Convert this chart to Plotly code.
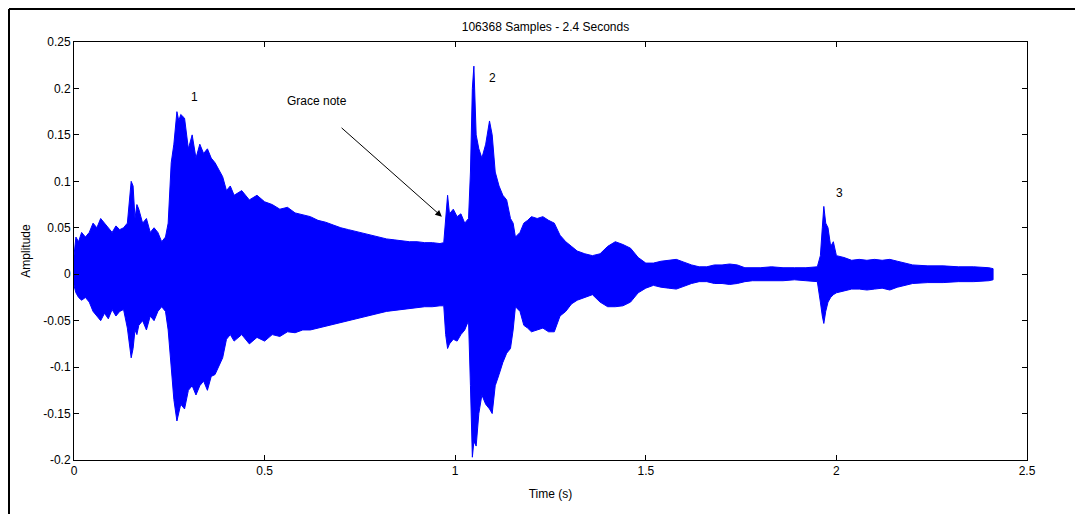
import plotly.graph_objects as go

# Envelope of the waveform (time in s, upper / lower amplitude)
env_t = [0.000, 0.005, 0.012, 0.020, 0.030, 0.040, 0.050, 0.060, 0.070, 0.080, 0.090, 0.100, 0.110, 0.120, 0.130,
         0.140, 0.150, 0.155, 0.160, 0.165, 0.170, 0.180, 0.190, 0.200, 0.210, 0.220, 0.230, 0.240, 0.247, 0.255,
         0.262, 0.270, 0.275, 0.280, 0.290, 0.300, 0.310, 0.320, 0.330, 0.340, 0.350, 0.360, 0.370, 0.380, 0.390,
         0.400, 0.410, 0.420, 0.440, 0.460, 0.480, 0.500, 0.520, 0.540, 0.560, 0.580, 0.600, 0.620, 0.640, 0.660,
         0.680, 0.700, 0.720, 0.740, 0.760, 0.780, 0.800, 0.820, 0.840, 0.860, 0.880, 0.900, 0.920, 0.940, 0.960,
         0.970, 0.975, 0.980, 0.985, 0.995, 1.005, 1.015, 1.025, 1.035, 1.040, 1.045, 1.049, 1.055, 1.062, 1.070,
         1.080, 1.090, 1.097, 1.105, 1.115, 1.125, 1.135, 1.145, 1.152, 1.158, 1.170, 1.180, 1.190, 1.200, 1.215,
         1.230, 1.245, 1.260, 1.275, 1.290, 1.305, 1.320, 1.340, 1.360, 1.380, 1.400, 1.420, 1.440, 1.460, 1.480,
         1.500, 1.520, 1.540, 1.560, 1.580, 1.600, 1.620, 1.640, 1.660, 1.680, 1.700, 1.720, 1.740, 1.760, 1.780,
         1.800, 1.830, 1.860, 1.890, 1.920, 1.950, 1.958, 1.963, 1.967, 1.972, 1.978, 1.985, 1.992, 2.000, 2.020,
         2.040, 2.060, 2.080, 2.100, 2.120, 2.140, 2.160, 2.180, 2.200, 2.240, 2.280, 2.320, 2.360, 2.400, 2.411]
env_hi = [0.020, 0.040, 0.035, 0.045, 0.040, 0.045, 0.055, 0.050, 0.060, 0.055, 0.050, 0.045, 0.052, 0.048, 0.050,
          0.055, 0.100, 0.095, 0.060, 0.075, 0.070, 0.055, 0.060, 0.045, 0.050, 0.045, 0.035, 0.040, 0.055, 0.120,
          0.140, 0.175, 0.165, 0.172, 0.168, 0.135, 0.150, 0.125, 0.140, 0.130, 0.135, 0.125, 0.120, 0.112, 0.105,
          0.090, 0.095, 0.085, 0.090, 0.080, 0.085, 0.078, 0.075, 0.070, 0.072, 0.066, 0.064, 0.062, 0.058, 0.056,
          0.053, 0.050, 0.048, 0.046, 0.044, 0.042, 0.040, 0.038, 0.037, 0.036, 0.035, 0.035, 0.034, 0.034, 0.033,
          0.034, 0.060, 0.085, 0.065, 0.070, 0.062, 0.065, 0.055, 0.060, 0.110, 0.200, 0.224, 0.150, 0.135, 0.125,
          0.140, 0.165, 0.150, 0.110, 0.095, 0.085, 0.080, 0.060, 0.055, 0.040, 0.045, 0.055, 0.058, 0.062, 0.060,
          0.062, 0.058, 0.055, 0.042, 0.035, 0.030, 0.025, 0.022, 0.020, 0.022, 0.030, 0.035, 0.032, 0.028, 0.018,
          0.012, 0.012, 0.014, 0.015, 0.016, 0.013, 0.010, 0.008, 0.008, 0.010, 0.010, 0.011, 0.010, 0.007, 0.007,
          0.007, 0.008, 0.007, 0.007, 0.007, 0.008, 0.020, 0.050, 0.073, 0.055, 0.050, 0.030, 0.035, 0.020, 0.018,
          0.015, 0.016, 0.015, 0.016, 0.015, 0.016, 0.014, 0.012, 0.010, 0.009, 0.009, 0.008, 0.008, 0.007, 0.006]
env_lo = [-0.012, -0.020, -0.025, -0.028, -0.025, -0.030, -0.040, -0.045, -0.050, -0.042, -0.048, -0.038, -0.045, -0.040, -0.038,
          -0.058, -0.090, -0.080, -0.060, -0.065, -0.055, -0.050, -0.060, -0.045, -0.050, -0.040, -0.035, -0.040, -0.060, -0.100,
          -0.135, -0.158, -0.150, -0.140, -0.145, -0.125, -0.120, -0.130, -0.120, -0.115, -0.125, -0.110, -0.108, -0.100, -0.090,
          -0.070, -0.065, -0.072, -0.065, -0.075, -0.068, -0.072, -0.065, -0.067, -0.062, -0.063, -0.060, -0.060, -0.058, -0.056,
          -0.054, -0.052, -0.050, -0.048, -0.046, -0.044, -0.042, -0.040, -0.039, -0.038, -0.037, -0.036, -0.035, -0.035, -0.034,
          -0.034, -0.065, -0.080, -0.075, -0.070, -0.072, -0.065, -0.060, -0.050, -0.120, -0.197, -0.180, -0.185, -0.150, -0.130,
          -0.140, -0.145, -0.150, -0.120, -0.108, -0.095, -0.085, -0.080, -0.060, -0.035, -0.040, -0.055, -0.058, -0.062, -0.060,
          -0.058, -0.062, -0.062, -0.045, -0.040, -0.032, -0.028, -0.025, -0.022, -0.030, -0.035, -0.035, -0.034, -0.030, -0.020,
          -0.015, -0.012, -0.014, -0.015, -0.016, -0.013, -0.010, -0.008, -0.008, -0.010, -0.010, -0.011, -0.010, -0.008, -0.007,
          -0.007, -0.007, -0.007, -0.006, -0.007, -0.008, -0.030, -0.045, -0.053, -0.040, -0.030, -0.025, -0.022, -0.020, -0.018,
          -0.016, -0.016, -0.017, -0.016, -0.015, -0.017, -0.014, -0.012, -0.010, -0.009, -0.009, -0.008, -0.008, -0.007, -0.006]

x_ticks = [0, 0.5, 1, 1.5, 2, 2.5]
x_tick_text = ["0", "0.5", "1", "1.5", "2", "2.5"]
y_ticks = [-0.2, -0.15, -0.1, -0.05, 0, 0.05, 0.1, 0.15, 0.2, 0.25]
y_tick_text = ["-0.2", "-0.15", "-0.1", "-0.05", "0", "0.05", "0.1", "0.15", "0.2", "0.25"]

labels = ["1", "2", "3"]
label_t = [0.315, 1.099, 2.007]
label_amp = [0.191, 0.211, 0.087]

BLUE = "#0000FF"
FONT = "Liberation Sans, Arial, sans-serif"

W, H = 1075, 506
ML, MR, MT, MB = 66, 56, 34, 54

fig = go.Figure()
poly_x = env_t + env_t[::-1]
poly_y = env_hi + env_lo[::-1]
fig.add_trace(go.Scatter(x=poly_x, y=poly_y, mode="lines", fill="toself",
                         fillcolor=BLUE, line=dict(color=BLUE, width=1), hoverinfo="skip",
                         showlegend=False))

for txt, t, a in zip(labels, label_t, label_amp):
    fig.add_annotation(x=t, y=a, text=txt, showarrow=False,
                       font=dict(family=FONT, size=12, color="black"))

fig.add_annotation(x=0.637, y=0.187, text="Grace note", showarrow=False,
                   font=dict(family=FONT, size=12, color="black"))
fig.add_annotation(x=0.965, y=0.062, ax=0.698, ay=0.159, xref="x", yref="y",
                   axref="x", ayref="y", text="", showarrow=True,
                   arrowhead=2, arrowsize=1.3, arrowwidth=1, arrowcolor="black")

# outer frame (left and top edges visible in reference)
pw = W - ML - MR
ph = H - MT - MB
fx = (1 - ML) / pw
fy = 1 + (MT - 1) / ph
fig.add_shape(type="line", xref="paper", yref="paper", x0=fx, x1=fx, y0=-MB / ph, y1=fy,
              line=dict(color="black", width=2))
fig.add_shape(type="line", xref="paper", yref="paper", x0=fx, x1=1 + MR / pw, y0=fy, y1=fy,
              line=dict(color="black", width=2))

fig.update_layout(
    width=W, height=H,
    margin=dict(l=ML, r=MR, t=MT, b=MB),
    paper_bgcolor="white", plot_bgcolor="white",
    font=dict(family=FONT, size=12, color="black"),
    title=dict(text="106368 Samples - 2.4 Seconds", x=0.5, xanchor="center",
               y=1 - 19 / H, yanchor="middle", font=dict(family=FONT, size=12)),
    showlegend=False,
)
fig.update_xaxes(range=[0, 2.5], tickvals=x_ticks, ticktext=x_tick_text,
                 ticks="inside", ticklen=5, tickcolor="black", showline=True, linecolor="black",
                 linewidth=1, mirror="ticks", showgrid=False, zeroline=False,
                 title=dict(text="Time (s)", standoff=12, font=dict(family=FONT, size=12)))
fig.update_yaxes(range=[-0.2, 0.25], tickvals=y_ticks, ticktext=y_tick_text,
                 ticks="inside", ticklen=5, tickcolor="black", showline=True, linecolor="black",
                 linewidth=1, mirror="ticks", showgrid=False, zeroline=False,
                 title=dict(text="Amplitude", standoff=10, font=dict(family=FONT, size=12)))

fig.write_html("out.html")
